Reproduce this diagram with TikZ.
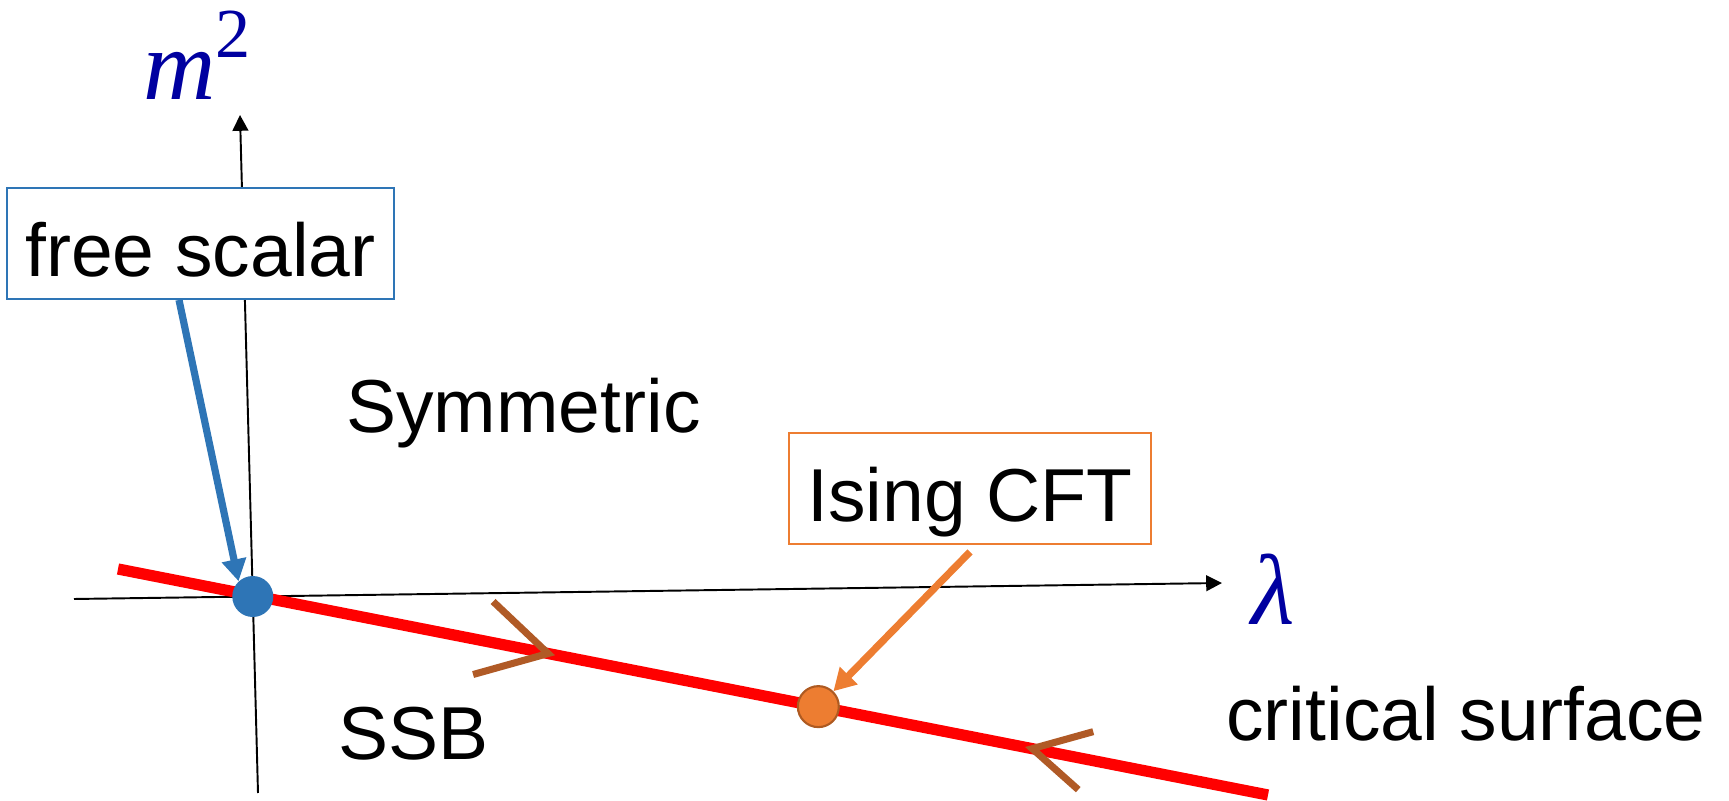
\documentclass[tikz,border=0pt]{standalone}
\usepackage{fontspec}
\setmainfont{Liberation Sans}
\newfontfamily\varserif{Liberation Serif}
\usetikzlibrary{positioning, arrows.meta}
\definecolor{varblue}{RGB}{0,0,160}
\definecolor{freeblue}{RGB}{46,117,182}
\definecolor{isingorange}{RGB}{237,125,49}
\definecolor{isingedge}{RGB}{174,90,33}
\definecolor{flowbrown}{RGB}{176,90,38}
\tikzset{
  every node/.style={text=black, font=\fontsize{42.7}{50}\selectfont},
  axis/.style={draw=black, line width=1.1pt, -{Triangle[length=9pt, width=9pt]}},
  varlabel/.style={text=varblue, inner sep=0pt, anchor=base west, font=\fontsize{57}{60}\selectfont\varserif\itshape},
  callout/.style={draw, fill=white, line width=1.1pt, inner xsep=0.36cm, inner ysep=0pt, text height=37.6pt, text depth=0pt, minimum height=2.22cm},
  pointer/.style={line width=4.1pt, -{Triangle[length=12.5pt, width=13.5pt]}},
  fixedpoint/.style={circle, inner sep=0pt, minimum size=0.82cm},
  flow/.style={draw=flowbrown, line width=4pt},
  region/.style={inner sep=0pt, anchor=base west}
}

\begin{document}
\begin{tikzpicture}[x=0.02cm, y=0.02cm]
  \useasboundingbox (0,0) rectangle (1729,801);

  % Axes
  \coordinate (xstart) at (74,202);
  \coordinate (xend) at (1222,218);
  \coordinate (ystart) at (258,8);
  \coordinate (yend) at (240,686);
  \coordinate (origin) at (intersection of xstart--xend and ystart--yend);
  \draw[axis] (xstart) -- (xend);
  \draw[axis] (ystart) -- (yend);
  \node (lambda) [varlabel] at ([xshift=0.58cm, yshift=-0.84cm]xend) {λ};
  \node (msq) [varlabel] at ([xshift=-1.94cm, yshift=0.3cm]yend) {m\raisebox{0.42em}{\fontsize{40}{40}\selectfont\upshape 2}};

  % Critical surface and the flow along it
  \coordinate (cstart) at (118,232);
  \coordinate (cend) at (1268,6);
  \draw[red, line width=6.4pt] (cstart) -- (cend);
  \path (cstart) -- (cend)
    coordinate[pos=0.374] (flowin)
    coordinate[pos=0.609] (cft)
    coordinate[pos=0.795] (flowout);
  \draw[flow] (flowin) ++(-55,52) -- (flowin) -- ++(-75,-21);
  \draw[flow] (flowout) ++(61,17) -- (flowout) -- ++(46,-41);

  % Fixed points
  \node (free) [fixedpoint, fill=freeblue] at (origin) {};
  \node (ising) [fixedpoint, fill=isingorange, draw=isingedge, line width=1.2pt] at (cft) {};

  % Callouts
  \node (freebox) [callout, draw=freeblue] at (200.5,557.5) {free scalar};
  \node (isingbox) [callout, draw=isingorange] at (970,312.5) {Ising CFT};
  \draw[pointer, freeblue] ([xshift=-0.43cm]freebox.south) -- (free.133);
  \draw[pointer, isingorange] ([yshift=-0.14cm]isingbox.south) -- (ising);

  % Phases
  \node (sym) [region] at (346,368) {Symmetric};
  \node (ssb) [region] at (338,41) {SSB};
  \node (crit) [region] at (1226,60) {critical surface};
\end{tikzpicture}
\end{document}
